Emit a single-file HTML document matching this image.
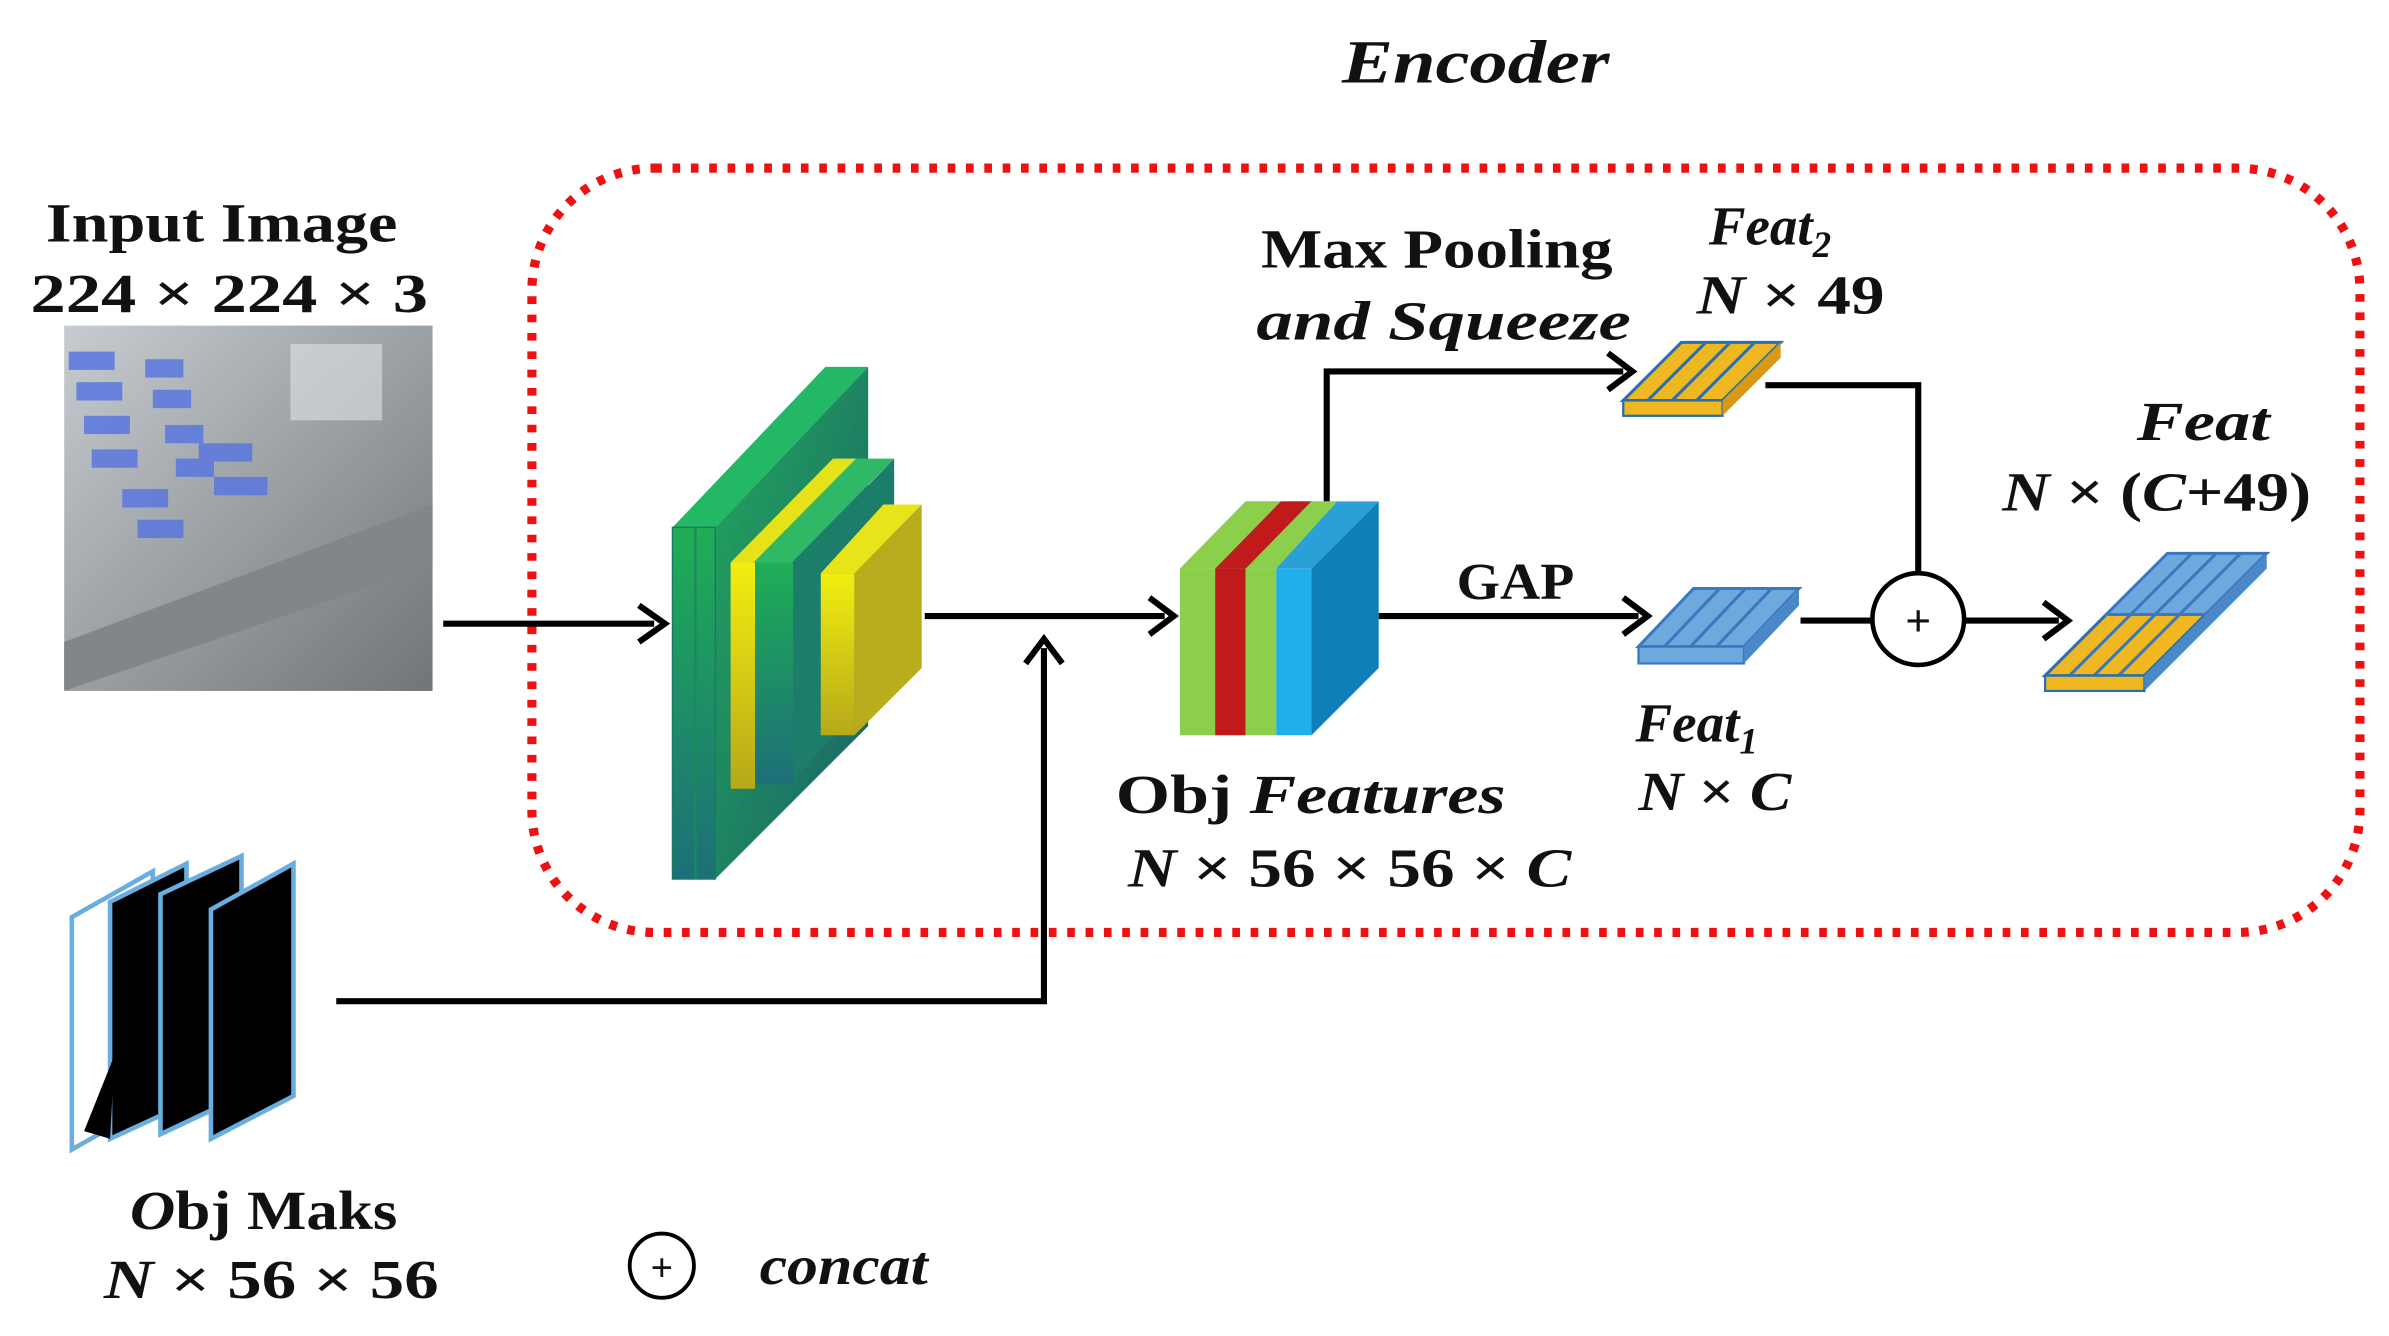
<!DOCTYPE html>
<html><head><meta charset="utf-8"><style>
html,body{margin:0;padding:0;background:#fff;}
svg{display:block;}
text{font-family:"Liberation Serif",serif;font-weight:bold;fill:#111;}
</style></head><body>
<svg width="2389" height="1336" viewBox="0 0 1563 874" preserveAspectRatio="none" xmlns="http://www.w3.org/2000/svg">
<defs>
<linearGradient id="g1" x1="0" y1="0" x2="0" y2="1"><stop offset="0" stop-color="#1fae55"/><stop offset="1" stop-color="#1d6f78"/></linearGradient>
<linearGradient id="g2" x1="0" y1="0" x2="1" y2="1"><stop offset="0" stop-color="#22a85a"/><stop offset="1" stop-color="#1b5f6a"/></linearGradient>
<linearGradient id="y1" x1="0" y1="0" x2="0" y2="1"><stop offset="0" stop-color="#f2ee10"/><stop offset="1" stop-color="#b7a81a"/></linearGradient>
<linearGradient id="img" x1="0" y1="0" x2="1" y2="1"><stop offset="0" stop-color="#c8ccd0"/><stop offset="0.5" stop-color="#9aa0a4"/><stop offset="1" stop-color="#6f7579"/></linearGradient>
</defs>

<text x="878" y="54" font-size="40" font-style="italic" textLength="175" lengthAdjust="spacingAndGlyphs">Encoder</text>
<rect x="348" y="110" width="1196" height="500" rx="80" fill="none" stroke="#ee1111" stroke-width="6" stroke-dasharray="5 7"/>

<text x="30" y="158" font-size="36" textLength="230" lengthAdjust="spacingAndGlyphs">Input Image</text>
<text x="20" y="204" font-size="36" textLength="260" lengthAdjust="spacingAndGlyphs">224 × 224 × 3</text>
<rect x="42" y="213" width="241" height="239" fill="url(#img)"/>
<g fill="#5a78e0" opacity="0.85">
<rect x="45" y="230" width="30" height="12"/><rect x="50" y="250" width="30" height="12"/><rect x="55" y="272" width="30" height="12"/><rect x="60" y="294" width="30" height="12"/>
<rect x="95" y="235" width="25" height="12"/><rect x="100" y="255" width="25" height="12"/><rect x="108" y="278" width="25" height="12"/><rect x="115" y="300" width="25" height="12"/>
<rect x="130" y="290" width="35" height="12"/><rect x="140" y="312" width="35" height="12"/><rect x="80" y="320" width="30" height="12"/><rect x="90" y="340" width="30" height="12"/>
</g>
<polygon points="42,420 283,330 283,370 42,452" fill="#80868a"/>
<rect x="190" y="225" width="60" height="50" fill="#e0e2e2" opacity="0.6"/>

<g stroke="#000" stroke-width="4" fill="none">
<line x1="290" y1="408" x2="428" y2="408"/>
<line x1="605" y1="403" x2="762" y2="403"/>
<polyline points="220,655 683,655 683,424"/>
<polyline points="868,328 868,243 1062,243"/>
<line x1="902" y1="403" x2="1072" y2="403"/>
<polyline points="1155,252 1255,252 1255,375"/>
<line x1="1178" y1="406" x2="1225" y2="406"/>
<line x1="1285" y1="406" x2="1347" y2="406"/>
</g>
<g fill="none" stroke="#000" stroke-width="4">
<polyline points="418,396 435,408 418,420"/>
<polyline points="752,391 768,403 752,415"/>
<polyline points="671,434 683,418 695,434"/>
<polyline points="1052,231 1068,243 1052,255"/>
<polyline points="1062,391 1078,403 1062,415"/>
<polyline points="1337,394 1353,406 1337,418"/>
</g>

<polygon points="440,345 540,240 568,240 468,345" fill="#23b866"/>
<polygon points="468,345 568,240 568,475 468,575" fill="url(#g2)"/>
<rect x="440" y="345" width="28" height="230" fill="url(#g1)" stroke="#1a7a66" stroke-width="1"/>
<line x1="455" y1="345" x2="455" y2="575" stroke="#1a8a5a" stroke-width="1.5"/>
<polygon points="478,368 545,300 585,300 518,368" fill="#2fb865"/>
<polygon points="478,368 545,300 560,300 493,368" fill="#e6e21a"/>
<rect x="478" y="368" width="16" height="148" fill="url(#y1)"/>
<rect x="494" y="368" width="25" height="145" fill="url(#g1)"/>
<polygon points="519,368 585,300 585,440 519,510" fill="#1c7d6a"/>
<polygon points="537,375 578,330 603,330 560,375" fill="#e8e41a"/>
<rect x="537" y="375" width="22" height="106" fill="url(#y1)"/>
<polygon points="559,375 603,330 603,437 559,481" fill="#b9ac1c"/>

<polygon points="772,372 815,328 902,328 858,372" fill="#2a9fd8"/>
<polygon points="795,372 838,328 858,328 815,372" fill="#c01a1a"/>
<polygon points="772,372 815,328 838,328 795,372" fill="#8ccf4a"/>
<polygon points="815,372 858,328 875,328 835,372" fill="#8ccf4a"/>
<polygon points="858,372 902,328 902,437 858,481" fill="#0f7fb8"/>
<rect x="772" y="372" width="23" height="109" fill="#8ccf4a"/>
<rect x="795" y="372" width="20" height="109" fill="#c01a1a"/>
<rect x="815" y="372" width="20" height="109" fill="#8ccf4a"/>
<rect x="835" y="372" width="23" height="109" fill="#1fb0ea"/>

<text x="825" y="175" font-size="36" textLength="230" lengthAdjust="spacingAndGlyphs">Max Pooling</text>
<text x="822" y="222" font-size="36" font-style="italic" textLength="245" lengthAdjust="spacingAndGlyphs">and Squeeze</text>
<text x="1118" y="160" font-size="36" font-style="italic">Feat<tspan font-size="24" dy="8">2</tspan></text>
<text x="1110" y="205" font-size="36" textLength="123" lengthAdjust="spacingAndGlyphs"><tspan font-style="italic">N</tspan> × 49</text>

<polygon points="1062,262 1100,224 1165,224 1127,262" fill="#f0b820" stroke="#2a6fb0" stroke-width="2"/>
<g stroke="#2a6fb0" stroke-width="2"><line x1="1078" y1="262" x2="1116" y2="224"/><line x1="1094" y1="262" x2="1132" y2="224"/><line x1="1110" y1="262" x2="1148" y2="224"/></g>
<rect x="1062" y="262" width="65" height="10" fill="#f0b820" stroke="#2a6fb0" stroke-width="1.5"/>
<polygon points="1127,262 1165,224 1165,234 1127,272" fill="#d89a10"/>

<text x="953" y="392" font-size="34" textLength="77" lengthAdjust="spacingAndGlyphs">GAP</text>
<polygon points="1072,423 1108,385 1177,385 1141,423" fill="#6fa8dc" stroke="#3a78c0" stroke-width="2"/>
<g stroke="#3a78c0" stroke-width="2"><line x1="1089" y1="423" x2="1125" y2="385"/><line x1="1106" y1="423" x2="1142" y2="385"/><line x1="1123" y1="423" x2="1159" y2="385"/></g>
<rect x="1072" y="423" width="69" height="11" fill="#6fa8dc" stroke="#3a78c0" stroke-width="1.5"/>
<polygon points="1141,423 1177,385 1177,396 1141,434" fill="#4a88c8"/>

<circle cx="1255" cy="405" r="30" fill="#fff" stroke="#000" stroke-width="3"/>
<text x="1255" y="416" font-size="30" font-weight="normal" text-anchor="middle">+</text>

<text x="1398" y="288" font-size="36" font-style="italic" textLength="87" lengthAdjust="spacingAndGlyphs">Feat</text>
<text x="1310" y="334" font-size="36" textLength="202" lengthAdjust="spacingAndGlyphs"><tspan font-style="italic">N</tspan> × (<tspan font-style="italic">C</tspan>+49)</text>
<polygon points="1338,442 1378,402 1443,402 1403,442" fill="#f0b820" stroke="#2a6fb0" stroke-width="2"/>
<polygon points="1378,402 1418,362 1483,362 1443,402" fill="#6fa8dc" stroke="#3a78c0" stroke-width="2"/>
<g stroke="#3a78c0" stroke-width="2"><line x1="1354" y1="442" x2="1434" y2="362"/><line x1="1370" y1="442" x2="1450" y2="362"/><line x1="1386" y1="442" x2="1466" y2="362"/></g>
<rect x="1338" y="442" width="65" height="10" fill="#f0b820" stroke="#2a6fb0" stroke-width="1.5"/>
<polygon points="1403,442 1483,362 1483,372 1403,452" fill="#4a88c8"/>

<text x="1070" y="485" font-size="36" font-style="italic">Feat<tspan font-size="24" dy="8">1</tspan></text>
<text x="1072" y="530" font-size="36" textLength="100" lengthAdjust="spacingAndGlyphs"><tspan font-style="italic">N</tspan> × <tspan font-style="italic">C</tspan></text>
<text x="730" y="532" font-size="36" textLength="255" lengthAdjust="spacingAndGlyphs">Obj <tspan font-style="italic">Features</tspan></text>
<text x="738" y="580" font-size="36" textLength="290" lengthAdjust="spacingAndGlyphs"><tspan font-style="italic">N</tspan> × 56 × 56 × <tspan font-style="italic">C</tspan></text>

<g stroke="#6aaee0" stroke-width="3">
<polygon points="47,600 100,570 100,722 47,752" fill="#fff"/>
<polygon points="72,590 122,565 122,722 72,745" fill="#000"/>
<polygon points="105,585 158,560 158,717 105,742" fill="#000"/>
<polygon points="138,595 192,565 192,717 138,745" fill="#000"/>
</g>
<polygon points="55,740 75,690 72,745" fill="#000"/>

<text x="85" y="804" font-size="36" textLength="175" lengthAdjust="spacingAndGlyphs"><tspan font-style="italic">O</tspan>bj Maks</text>
<text x="68" y="849" font-size="36" textLength="219" lengthAdjust="spacingAndGlyphs"><tspan font-style="italic">N</tspan> × 56 × 56</text>

<circle cx="433" cy="828" r="21" fill="#fff" stroke="#000" stroke-width="2.5"/>
<text x="433" y="838" font-size="26" font-weight="normal" text-anchor="middle">+</text>
<text x="497" y="840" font-size="36" font-weight="normal" font-style="italic" textLength="110" lengthAdjust="spacingAndGlyphs">concat</text>
</svg>
</body></html>
